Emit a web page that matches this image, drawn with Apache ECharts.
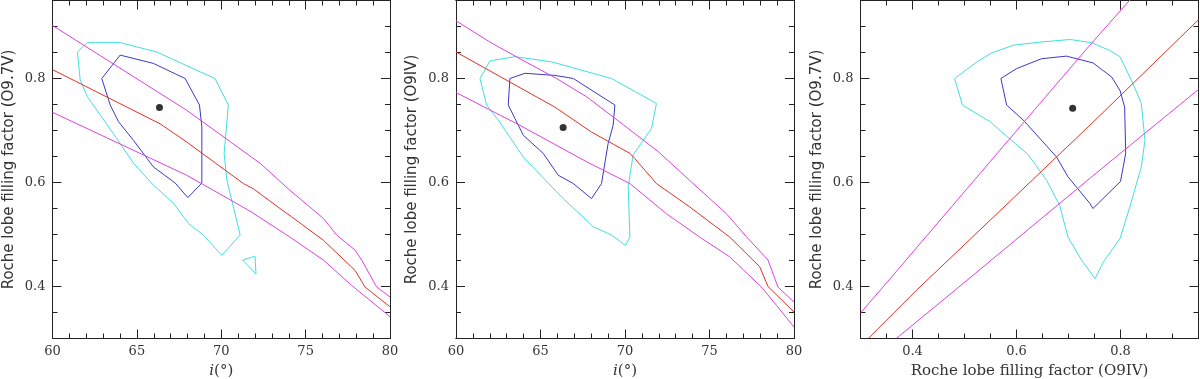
<!DOCTYPE html>
<html>
<head>
<meta charset="utf-8">
<script src="https://cdn.jsdelivr.net/npm/echarts@6/dist/echarts.min.js"></script>
<style>
  html, body { margin: 0; padding: 0; background: #fff; }
  #chart { width: 1200px; height: 379px; }
</style>
</head>
<body>
<div id="chart"></div>
<script>
// tick values
const incMajor = [60, 65, 70, 75, 80];
const incMinor = [61, 62, 63, 64, 66, 67, 68, 69, 71, 72, 73, 74, 76, 77, 78, 79];
const rlfMajor = [0.4, 0.6, 0.8];
const rlfMinor = [0.35, 0.45, 0.5, 0.55, 0.65, 0.7, 0.75, 0.85, 0.9];

// panel 1: filling factor (O9.7V) vs inclination
const p1Upper = [[60, 0.902], [67.95, 0.739], [72.3, 0.637], [74.07, 0.585], [76.05, 0.531], [76.84, 0.499], [77.93, 0.470], [78.32, 0.451], [79.21, 0.399], [80, 0.380]];
const p1Mid = [[60, 0.817], [66.37, 0.713], [67.95, 0.678], [71.31, 0.598], [71.9, 0.588], [73.48, 0.550], [74.17, 0.534], [76.05, 0.489], [77.93, 0.431], [78.52, 0.399], [80, 0.361]];
const p1Lower = [[60, 0.735], [67.95, 0.614], [70.52, 0.567], [71.8, 0.543], [74.07, 0.495], [76.05, 0.451], [77.73, 0.402], [80, 0.342]];
const p1Outer = [[61.48, 0.851], [62.07, 0.869], [64.01, 0.869], [66.18, 0.851], [67.86, 0.826], [69.63, 0.800], [70.42, 0.749], [70.17, 0.656], [70.33, 0.605], [71.12, 0.499], [70.03, 0.460], [68.94, 0.499], [68.06, 0.521], [67.17, 0.560], [65.98, 0.595], [64.80, 0.637], [63.61, 0.694], [62.63, 0.739], [62.07, 0.765], [61.64, 0.797], [61.48, 0.851]];
const p1Island = [[71.27, 0.451], [72.0, 0.458], [72.06, 0.424], [71.27, 0.451]];
const p1Inner = [[62.92, 0.800], [64.01, 0.845], [65.98, 0.829], [67.86, 0.800], [68.71, 0.749], [68.85, 0.707], [68.85, 0.599], [68.02, 0.571], [67.27, 0.599], [65.98, 0.630], [64.80, 0.681], [63.91, 0.717], [63.42, 0.749], [62.92, 0.800]];
const p1Best = [[66.34, 0.744]];

// panel 2: filling factor (O9IV) vs inclination
const p2Upper = [[60, 0.911], [62.01, 0.870], [63.78, 0.838], [65.95, 0.800], [67.72, 0.765], [69.3, 0.726], [71.98, 0.659], [73.83, 0.604], [76.0, 0.540], [77.18, 0.496], [78.46, 0.451], [79.05, 0.399], [80, 0.370]];
const p2Mid = [[60, 0.851], [65.85, 0.745], [68.02, 0.697], [70.29, 0.656], [70.58, 0.646], [71.86, 0.598], [73.83, 0.553], [76.2, 0.495], [77.97, 0.438], [78.46, 0.400], [80, 0.351]];
const p2Lower = [[60, 0.773], [63.78, 0.710], [67.72, 0.640], [70.29, 0.598], [72.45, 0.540], [74.42, 0.495], [76.2, 0.457], [78.07, 0.399], [78.96, 0.364], [80, 0.322]];
const p2Outer = [[62.01, 0.834], [63.49, 0.842], [65.66, 0.832], [69.20, 0.800], [71.86, 0.752], [71.57, 0.704], [70.48, 0.653], [70.19, 0.592], [70.29, 0.495], [70.03, 0.479], [69.20, 0.499], [68.12, 0.515], [66.25, 0.572], [63.98, 0.649], [62.50, 0.720], [61.81, 0.749], [61.42, 0.800], [62.01, 0.834]];
const p2Inner = [[63.19, 0.800], [64.08, 0.810], [65.85, 0.806], [66.94, 0.800], [69.40, 0.749], [69.30, 0.710], [69.00, 0.675], [68.61, 0.598], [68.02, 0.569], [66.94, 0.598], [66.05, 0.614], [65.16, 0.656], [63.98, 0.691], [63.49, 0.723], [63.09, 0.749], [63.19, 0.800]];
const p2Best = [[66.34, 0.706]];

// panel 3: O9.7V vs O9IV filling factor
const p3Upper = [[0.301, 0.350], [0.357, 0.415], [0.568, 0.662], [0.741, 0.864], [0.818, 0.951]];
const p3Mid = [[0.316, 0.301], [0.408, 0.393], [0.741, 0.710], [0.950, 0.913]];
const p3Lower = [[0.370, 0.301], [0.482, 0.393], [0.741, 0.608], [0.950, 0.779]];
const p3Outer = [[0.481, 0.800], [0.496, 0.749], [0.549, 0.717], [0.623, 0.653], [0.658, 0.604], [0.683, 0.556], [0.699, 0.495], [0.725, 0.451], [0.751, 0.415], [0.767, 0.447], [0.799, 0.492], [0.818, 0.553], [0.840, 0.630], [0.847, 0.681], [0.840, 0.752], [0.824, 0.790], [0.799, 0.842], [0.779, 0.854], [0.744, 0.869], [0.703, 0.875], [0.645, 0.870], [0.594, 0.864], [0.552, 0.849], [0.524, 0.832], [0.481, 0.800]];
const p3Inner = [[0.570, 0.800], [0.600, 0.819], [0.648, 0.838], [0.696, 0.843], [0.747, 0.830], [0.783, 0.803], [0.799, 0.777], [0.808, 0.745], [0.810, 0.656], [0.800, 0.602], [0.747, 0.550], [0.741, 0.560], [0.699, 0.611], [0.677, 0.649], [0.651, 0.678], [0.613, 0.720], [0.581, 0.749], [0.570, 0.800]];
const p3Best = [[0.708, 0.743]];

const CYAN = '#40e0e0';
const BLUE = '#3a3ac8';
const MAGENTA = '#e040e0';
const RED = '#e53022';

const serif = 'DejaVu Serif';
const sans = 'DejaVu Sans';

// 4 axes per side pair: main (labels + major), main minor, mirror major, mirror minor
function axes(gridIndex, pos, mirror, min, max, major, minor, fmt, name, nameOpts) {
  const line = { show: true, lineStyle: { color: '#222', width: 1 } };
  const base = { type: 'value', gridIndex, min, max, splitLine: { show: false }, axisLine: line };
  return [
    Object.assign({}, base, {
      position: pos,
      axisTick: { inside: true, length: 9, customValues: major, lineStyle: { color: '#222' } },
      axisLabel: { customValues: major, formatter: fmt, fontFamily: serif, fontSize: 13, color: '#333', margin: 7 },
      name: name
    }, nameOpts),
    Object.assign({}, base, {
      position: pos,
      axisTick: { inside: true, length: 5, customValues: minor, lineStyle: { color: '#222' } },
      axisLabel: { show: false }
    }),
    Object.assign({}, base, {
      position: mirror,
      axisTick: { inside: true, length: 9, customValues: major, lineStyle: { color: '#222' } },
      axisLabel: { show: false }
    }),
    Object.assign({}, base, {
      position: mirror,
      axisTick: { inside: true, length: 5, customValues: minor, lineStyle: { color: '#222' } },
      axisLabel: { show: false }
    })
  ];
}

const incName = {
  nameLocation: 'middle', nameGap: 25,
  nameTextStyle: { fontFamily: serif, fontSize: 15, color: '#333', rich: { it: { fontFamily: serif, fontStyle: 'italic', fontSize: 15, color: '#333' } } }
};
function rlfName(gap, family, size) {
  return { nameLocation: 'middle', nameGap: gap, nameTextStyle: { fontFamily: family, fontSize: size, color: '#333' } };
}
const fmtInt = v => String(Math.round(v));
const fmtDec = v => v.toFixed(1);

const xAxis = [].concat(
  axes(0, 'bottom', 'top', 60, 80, incMajor, incMinor, fmtInt, '{it|i}(°)', incName),
  axes(1, 'bottom', 'top', 60, 80, incMajor, incMinor, fmtInt, '{it|i}(°)', incName),
  axes(2, 'bottom', 'top', 0.3, 0.95, rlfMajor, rlfMinor, fmtDec, 'Roche lobe filling factor (O9IV)', rlfName(24, serif, 15))
);
const yAxis = [].concat(
  axes(0, 'left', 'right', 0.3, 0.95, rlfMajor, rlfMinor, fmtDec, 'Roche lobe filling factor (O9.7V)', rlfName(36, sans, 15)),
  axes(1, 'left', 'right', 0.3, 0.95, rlfMajor, rlfMinor, fmtDec, 'Roche lobe filling factor (O9IV)', rlfName(36, sans, 15)),
  axes(2, 'left', 'right', 0.3, 0.95, rlfMajor, rlfMinor, fmtDec, 'Roche lobe filling factor (O9.7V)', rlfName(36, sans, 15))
);

function curve(g, data, color) {
  return {
    type: 'line', xAxisIndex: g * 4, yAxisIndex: g * 4, data,
    showSymbol: false, symbol: 'none', silent: true, clip: true,
    lineStyle: { color, width: 1 }
  };
}
function dot(g, data) {
  return {
    type: 'scatter', xAxisIndex: g * 4, yAxisIndex: g * 4, data,
    symbolSize: 7, itemStyle: { color: '#000' }, silent: true
  };
}

const series = [
  curve(0, p1Outer, CYAN), curve(0, p1Island, CYAN), curve(0, p1Inner, BLUE),
  curve(0, p1Upper, MAGENTA), curve(0, p1Lower, MAGENTA), curve(0, p1Mid, RED), dot(0, p1Best),
  curve(1, p2Outer, CYAN), curve(1, p2Inner, BLUE),
  curve(1, p2Upper, MAGENTA), curve(1, p2Lower, MAGENTA), curve(1, p2Mid, RED), dot(1, p2Best),
  curve(2, p3Outer, CYAN), curve(2, p3Inner, BLUE),
  curve(2, p3Upper, MAGENTA), curve(2, p3Lower, MAGENTA), curve(2, p3Mid, RED), dot(2, p3Best)
];

const chart = echarts.init(document.getElementById('chart'), null, { renderer: 'canvas' });
chart.setOption({
  animation: false,
  backgroundColor: '#fff',
  grid: [
    { left: 52.5, top: 0.5, width: 337.5, height: 338, outerBoundsMode: 'none', containLabel: false },
    { left: 456, top: 0.5, width: 338, height: 338, outerBoundsMode: 'none', containLabel: false },
    { left: 860.5, top: 0.5, width: 338, height: 338, outerBoundsMode: 'none', containLabel: false }
  ],
  xAxis,
  yAxis,
  series
});
</script>
</body>
</html>
